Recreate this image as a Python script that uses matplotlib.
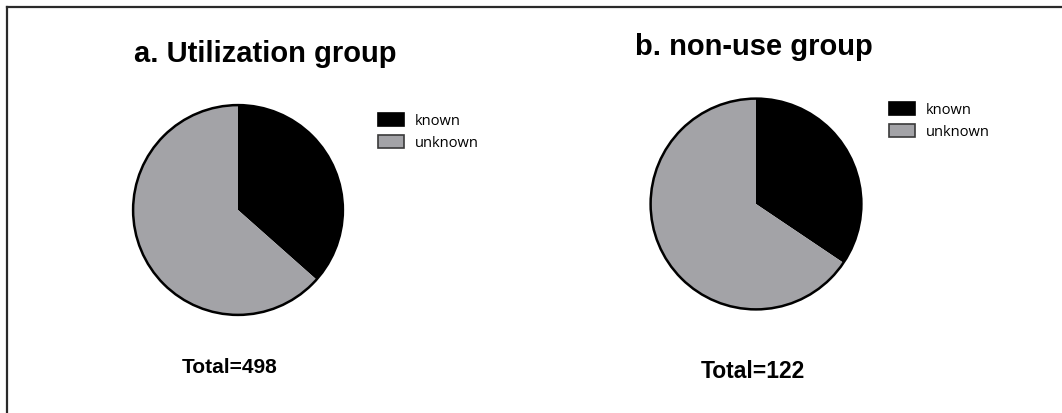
import matplotlib
matplotlib.use("Agg")
import matplotlib.pyplot as plt
from matplotlib.patches import Patch, Circle
from matplotlib.lines import Line2D

# Data
labels = ["known", "unknown"]
util_counts = [182, 316]
nonuse_counts = [42, 80]
titles = ["a. Utilization group", "b. non-use group"]
totals = ["Total=498", "Total=122"]

W, H = 1062, 413
colors = ["#000000", "#a3a3a7"]
edge_cols = ["#000000", "#3a3a3a"]
title_font = "Liberation Sans"
legend_font = "Open Sans"

fig = plt.figure(figsize=(W / 100, H / 100), dpi=100)
fig.patch.set_facecolor("white")


def px_axes(cx, cy, r):
    # axes box in figure fractions from pixel centre/radius
    return [(cx - r) / W, (H - cy - r) / H, 2 * r / W, 2 * r / H]


def fx(x):
    return x / W


def fy(y):
    return 1 - y / H


panels = [
    dict(counts=util_counts, title=titles[0], total=totals[0],
         centre=(238, 210, 107), title_xy=(134, 62, 21),
         total_xy=(182, 373, 15), legend_xy=(378, 113)),
    dict(counts=nonuse_counts, title=titles[1], total=totals[1],
         centre=(756, 204, 107.5), title_xy=(635, 55, 21),
         total_xy=(701, 378, 16.5), legend_xy=(889, 102)),
]

for p in panels:
    cx, cy, r = p["centre"]
    ax = fig.add_axes(px_axes(cx, cy, r))
    ax.pie(p["counts"], colors=colors, startangle=90, counterclock=False,
           radius=1.0, wedgeprops=dict(linewidth=0))
    ax.add_patch(Circle((0, 0), 1.0, fill=False, edgecolor="black",
                        linewidth=1.8, zorder=5))
    ax.set_xlim(-1.02, 1.02)
    ax.set_ylim(-1.02, 1.02)
    ax.set_aspect("auto")
    ax.axis("off")

    tx, ty, ts = p["title_xy"]
    fig.text(fx(tx), fy(ty), p["title"], fontsize=ts, fontweight="bold",
             family=title_font, ha="left", va="baseline")
    tx, ty, ts = p["total_xy"]
    fig.text(fx(tx), fy(ty), p["total"], fontsize=ts, fontweight="bold",
             family=title_font, ha="left", va="baseline")

    handles = [Patch(facecolor=c, edgecolor=e, linewidth=1.2)
               for c, e in zip(colors, edge_cols)]
    lx, ly = p["legend_xy"]
    fig.legend(handles, labels, loc="upper left",
               bbox_to_anchor=(fx(lx), fy(ly)), frameon=False,
               borderpad=0, borderaxespad=0, handlelength=1.75,
               handleheight=1.0, handletextpad=0.8, labelspacing=0.45,
               prop=dict(family=legend_font, size=10.5))

# cropped frame: only left and top edges are visible
fig.add_artist(Line2D([fx(6.5), fx(6.5)], [0, fy(6.5)], color="#2a2a2a",
                      linewidth=1.6, transform=fig.transFigure))
fig.add_artist(Line2D([fx(6.5), 1], [fy(6.5), fy(6.5)], color="#2a2a2a",
                      linewidth=1.6, transform=fig.transFigure))

fig.savefig("out.png", dpi=100, facecolor="white")
